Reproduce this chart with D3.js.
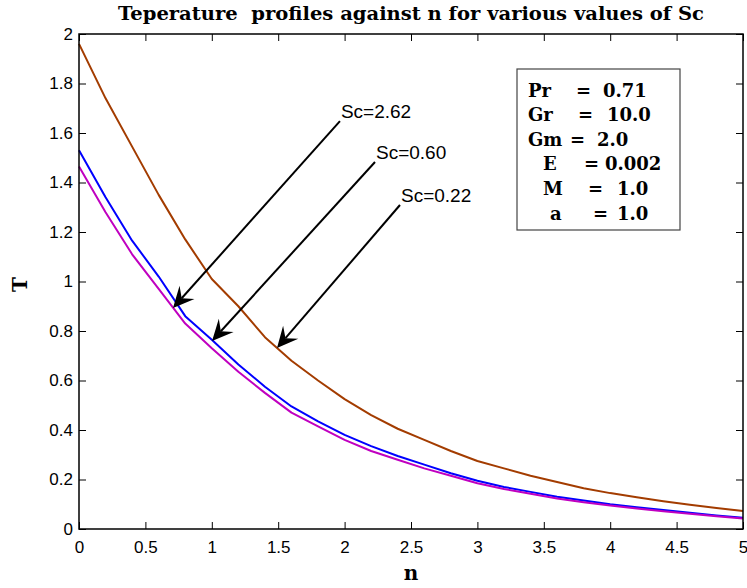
<!DOCTYPE html>
<html>
<head>
<meta charset="utf-8">
<script src="https://cdn.jsdelivr.net/npm/d3@7"></script>
<style>
  body { margin: 0; background: #fff; }
  svg { display: block; }
  .tick text { font-family: "Liberation Sans", Arial, sans-serif; font-size: 17px; fill: #000; }
  .tick line { stroke: #000; stroke-width: 1; }
  .serif { font-family: "DejaVu Serif", serif; font-weight: bold; fill: #000; }
</style>
</head>
<body>
<div id="chart"></div>
<script>
  'use strict';

  // n values along the x axis
  var nValues = [0, 0.2, 0.4, 0.6, 0.8, 1.0, 1.2, 1.4, 1.6, 1.8, 2.0, 2.2, 2.4,
                 2.6, 2.8, 3.0, 3.2, 3.4, 3.6, 3.8, 4.0, 4.2, 4.4, 4.6, 4.8, 5.0];

  // temperature profiles, one per Sc value
  var tempSc022 = [1.96, 1.74, 1.545, 1.35, 1.17, 1.01, 0.90, 0.775, 0.68, 0.60, 0.525, 0.46, 0.405,
                   0.36, 0.315, 0.275, 0.245, 0.215, 0.19, 0.165, 0.145, 0.128, 0.112, 0.098, 0.085, 0.073];
  var tempSc060 = [1.53, 1.34, 1.165, 1.02, 0.86, 0.765, 0.665, 0.575, 0.495, 0.435, 0.38, 0.335, 0.295,
                   0.26, 0.225, 0.195, 0.17, 0.15, 0.13, 0.115, 0.10, 0.088, 0.077, 0.066, 0.055, 0.045];
  var tempSc262 = [1.465, 1.28, 1.11, 0.97, 0.83, 0.73, 0.635, 0.55, 0.47, 0.415, 0.36, 0.315, 0.28,
                   0.245, 0.215, 0.185, 0.162, 0.142, 0.123, 0.108, 0.095, 0.083, 0.072, 0.062, 0.052, 0.042];

  var seriesNames = ['Sc=0.22', 'Sc=0.60', 'Sc=2.62'];
  var seriesColors = ['#a33c00', '#0000ff', '#c000c0'];

  // tick labels
  var xTicks = [0, 0.5, 1, 1.5, 2, 2.5, 3, 3.5, 4, 4.5, 5];
  var yTicks = [0, 0.2, 0.4, 0.6, 0.8, 1, 1.2, 1.4, 1.6, 1.8, 2];

  // arrows (data coords): label, tail [n, T], tip [n, T]
  var arrowLabels = ['Sc=2.62', 'Sc=0.60', 'Sc=0.22'];
  var arrowTail = [[1.965, 1.648], [2.229, 1.483], [2.417, 1.309]];
  var arrowTip = [[0.708, 0.893], [1.002, 0.760], [1.491, 0.731]];

  // parameter box
  var paramNames = ['Pr', 'Gr', 'Gm', 'E', 'M', 'a'];
  var paramValues = ['0.71', '10.0', '2.0', '0.002', '1.0', '1.0'];

  var titleText = 'Teperature  profiles against n for various values of Sc';

  var width = 747, height = 588;
  var margin = {top: 34, right: 4, bottom: 59, left: 79};
  var plotW = width - margin.left - margin.right,
      plotH = height - margin.top - margin.bottom;

  var svg = d3.select('#chart').append('svg')
    .attr('width', width)
    .attr('height', height);

  var x = d3.scaleLinear().domain([0, 5]).range([margin.left, margin.left + plotW]);
  var y = d3.scaleLinear().domain([0, 2]).range([margin.top + plotH, margin.top]);
  var fmt = function(d) { return String(+d.toFixed(1)); };

  // axes with inward ticks
  svg.append('g')
    .attr('transform', 'translate(0,' + (margin.top + plotH) + ')')
    .call(d3.axisBottom(x).tickValues(xTicks).tickFormat(fmt).tickSizeInner(-7).tickSizeOuter(0).tickPadding(12))
    .call(function(g) { g.select('.domain').remove(); });
  svg.append('g')
    .attr('transform', 'translate(0,' + margin.top + ')')
    .call(d3.axisTop(x).tickValues(xTicks).tickFormat('').tickSizeInner(-7).tickSizeOuter(0))
    .call(function(g) { g.select('.domain').remove(); });
  svg.append('g')
    .attr('transform', 'translate(' + margin.left + ',0)')
    .call(d3.axisLeft(y).tickValues(yTicks).tickFormat(fmt).tickSizeInner(-7).tickSizeOuter(0).tickPadding(6))
    .call(function(g) { g.select('.domain').remove(); });
  svg.append('g')
    .attr('transform', 'translate(' + (margin.left + plotW) + ',0)')
    .call(d3.axisRight(y).tickValues(yTicks).tickFormat('').tickSizeInner(-7).tickSizeOuter(0))
    .call(function(g) { g.select('.domain').remove(); });

  // curves
  var line = d3.line()
    .x(function(d) { return x(d[0]); })
    .y(function(d) { return y(d[1]); });

  [tempSc022, tempSc060, tempSc262].forEach(function(vals, i) {
    svg.append('path')
      .datum(nValues.map(function(n, j) { return [n, vals[j]]; }))
      .attr('fill', 'none')
      .attr('stroke', seriesColors[i])
      .attr('stroke-width', 2)
      .attr('stroke-linejoin', 'round')
      .attr('d', line)
      .append('title').text(seriesNames[i]);
  });

  // frame
  svg.append('rect')
    .attr('x', margin.left).attr('y', margin.top)
    .attr('width', plotW).attr('height', plotH)
    .attr('fill', 'none').attr('stroke', '#000').attr('stroke-width', 1.5);

  // arrows with labels
  arrowLabels.forEach(function(label, i) {
    var x0 = x(arrowTail[i][0]), y0 = y(arrowTail[i][1]),
        x1 = x(arrowTip[i][0]), y1 = y(arrowTip[i][1]);
    var ang = Math.atan2(y1 - y0, x1 - x0);
    var headLen = 21, headW = 10, notch = 13;
    var ux = Math.cos(ang), uy = Math.sin(ang);
    svg.append('line')
      .attr('x1', x0).attr('y1', y0)
      .attr('x2', x1 - ux * notch).attr('y2', y1 - uy * notch)
      .attr('stroke', '#000').attr('stroke-width', 2);
    var pts = [
      [x1, y1],
      [x1 - ux * headLen - uy * headW, y1 - uy * headLen + ux * headW],
      [x1 - ux * notch, y1 - uy * notch],
      [x1 - ux * headLen + uy * headW, y1 - uy * headLen - ux * headW]
    ];
    svg.append('path')
      .attr('d', 'M' + pts.join('L') + 'Z')
      .attr('fill', '#000');
    svg.append('text')
      .attr('x', x0 + 1)
      .attr('y', y0 - 3)
      .attr('font-family', '"Liberation Sans", Arial, sans-serif')
      .attr('font-size', 19)
      .text(label);
  });

  // parameter box
  var box = {x: 517, y: 69, w: 163, h: 161};
  svg.append('rect')
    .attr('x', box.x).attr('y', box.y)
    .attr('width', box.w).attr('height', box.h)
    .attr('fill', '#fff').attr('stroke', '#444').attr('stroke-width', 1.2);
  var rowX = [[528, 576, 603], [528, 578, 607], [528, 570, 597],
              [543, 584, 605], [543, 588, 617], [550, 593, 617]];
  paramNames.forEach(function(name, i) {
    var t = svg.append('text').attr('class', 'serif')
      .attr('font-size', 18)
      .attr('y', 96.5 + i * 24.6);
    t.append('tspan').attr('x', rowX[i][0]).text(name);
    t.append('tspan').attr('x', rowX[i][1]).text('=');
    t.append('tspan').attr('x', rowX[i][2]).text(paramValues[i]);
  });

  // title and axis labels
  svg.append('text').attr('class', 'serif')
    .attr('x', margin.left + plotW / 2).attr('y', 20)
    .attr('text-anchor', 'middle')
    .attr('font-size', 18)
    .attr('textLength', 586)
    .attr('lengthAdjust', 'spacingAndGlyphs')
    .style('white-space', 'pre')
    .text(titleText);
  svg.append('text').attr('class', 'serif')
    .attr('x', margin.left + plotW / 2).attr('y', 580)
    .attr('text-anchor', 'middle')
    .attr('font-size', 20)
    .text('n');
  svg.append('text').attr('class', 'serif')
    .attr('transform', 'translate(27,' + (margin.top + plotH / 2 + 3) + ') rotate(-90)')
    .attr('text-anchor', 'middle')
    .attr('font-size', 20)
    .text('T');
</script>
</body>
</html>
